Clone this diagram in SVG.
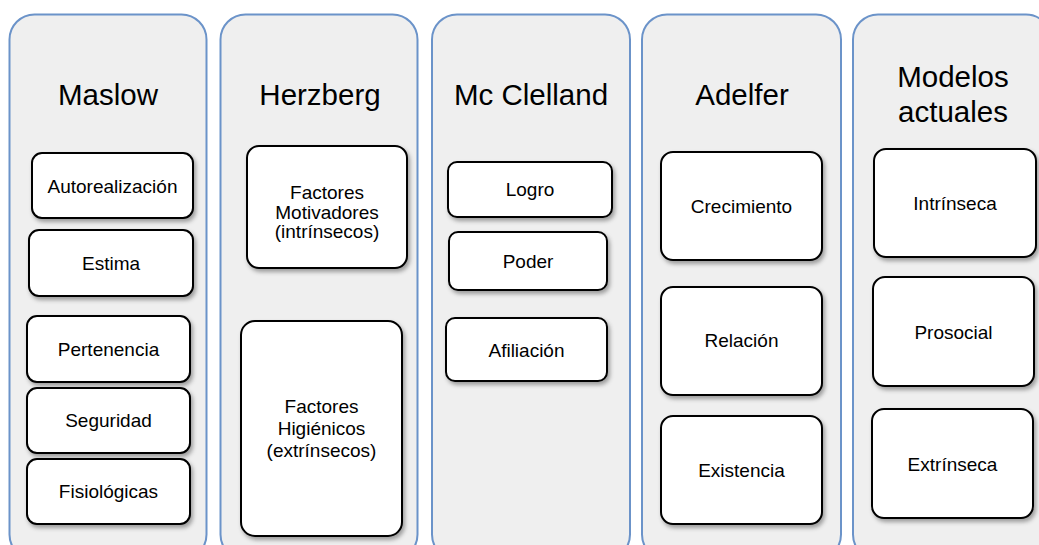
<svg xmlns="http://www.w3.org/2000/svg" width="1039" height="545" viewBox="0 0 1039 545">
<defs>
<filter id="sh" x="-10%" y="-10%" width="130%" height="130%">
<feDropShadow dx="2" dy="3" stdDeviation="2" flood-color="#000" flood-opacity="0.35"/>
</filter>
</defs>
<style>
.col{fill:#efefef;stroke:#6b93c9;stroke-width:2}
.box{fill:#ffffff;stroke:#000;stroke-width:2;filter:url(#sh)}
.t{font-family:"Liberation Sans",Arial,sans-serif;font-size:29.5px;fill:#000;text-anchor:middle}
.s{font-family:"Liberation Sans",Arial,sans-serif;font-size:19px;fill:#000;text-anchor:middle}
</style>
<rect width="1039" height="545" fill="#ffffff"/>
<g id="maslow">
<rect class="col" x="9.5" y="14.5" width="197" height="545" rx="25"/>
<text class="t" x="108" y="105">Maslow</text>
<g id="autorealizacion"><rect class="box" x="32" y="153" width="161" height="65" rx="10"/><text class="s" x="112.5" y="192.5">Autorealización</text></g>
<g id="estima"><rect class="box" x="29" y="230" width="164" height="66" rx="10"/><text class="s" x="111" y="269.5">Estima</text></g>
<g id="pertenencia"><rect class="box" x="27" y="316" width="163" height="66" rx="10"/><text class="s" x="108.5" y="356">Pertenencia</text></g>
<g id="seguridad"><rect class="box" x="27" y="388" width="163" height="65" rx="10"/><text class="s" x="108.5" y="427">Seguridad</text></g>
<g id="fisiologicas"><rect class="box" x="27" y="459" width="163" height="65" rx="10"/><text class="s" x="108.5" y="498">Fisiológicas</text></g>
</g>
<g id="herzberg">
<rect class="col" x="220.5" y="14.5" width="197" height="545" rx="25"/>
<text class="t" x="320" y="105">Herzberg</text>
<g id="motivadores"><rect class="box" x="247" y="146" width="160" height="122" rx="12"/><text class="s" x="327" y="199">Factores</text><text class="s" x="327" y="218.5">Motivadores</text><text class="s" x="327" y="238">(intrínsecos)</text></g>
<g id="higienicos"><rect class="box" x="241" y="321" width="161" height="215" rx="14"/><text class="s" x="321.5" y="413">Factores</text><text class="s" x="321.5" y="435">Higiénicos</text><text class="s" x="321.5" y="457">(extrínsecos)</text></g>
</g>
<g id="mcclelland">
<rect class="col" x="432" y="14.5" width="198" height="545" rx="25"/>
<text class="t" x="531" y="105">Mc Clelland</text>
<g id="logro"><rect class="box" x="448" y="162" width="164" height="55" rx="9"/><text class="s" x="530" y="196">Logro</text></g>
<g id="poder"><rect class="box" x="449" y="232" width="158" height="58" rx="9"/><text class="s" x="528" y="268">Poder</text></g>
<g id="afiliacion"><rect class="box" x="446" y="318" width="161" height="63" rx="9"/><text class="s" x="526.5" y="357">Afiliación</text></g>
</g>
<g id="adelfer">
<rect class="col" x="642" y="14.5" width="199" height="545" rx="25"/>
<text class="t" x="742" y="105">Adelfer</text>
<g id="crecimiento"><rect class="box" x="661" y="152" width="161" height="108" rx="12"/><text class="s" x="741.5" y="213">Crecimiento</text></g>
<g id="relacion"><rect class="box" x="661" y="287" width="161" height="108" rx="12"/><text class="s" x="741.5" y="347">Relación</text></g>
<g id="existencia"><rect class="box" x="661" y="416" width="161" height="108" rx="12"/><text class="s" x="741.5" y="477">Existencia</text></g>
</g>
<g id="modelos">
<rect class="col" x="853" y="14.5" width="198" height="545" rx="25"/>
<text class="t" x="953" y="87">Modelos</text>
<text class="t" x="953" y="122">actuales</text>
<g id="intrinseca"><rect class="box" x="874" y="149" width="162" height="108" rx="12"/><text class="s" x="955" y="210">Intrínseca</text></g>
<g id="prosocial"><rect class="box" x="873" y="277" width="161" height="109" rx="12"/><text class="s" x="953.5" y="339">Prosocial</text></g>
<g id="extrinseca"><rect class="box" x="872" y="409" width="161" height="109" rx="12"/><text class="s" x="952.5" y="471">Extrínseca</text></g>
</g>
<g id="connectors"></g>
</svg>
